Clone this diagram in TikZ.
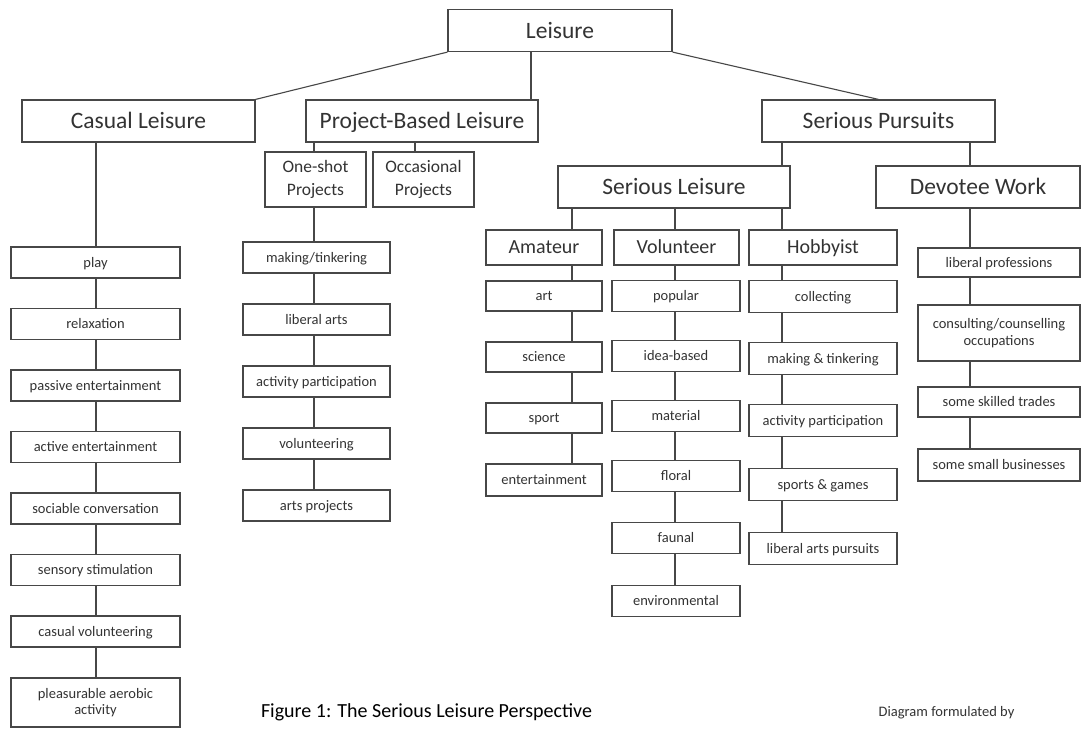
\documentclass[tikz,border=0pt]{standalone}
\usepackage{fontspec}
\setmainfont{Carlito}
\definecolor{boxline}{HTML}{474747}
\definecolor{boxtext}{HTML}{333333}
\newcommand{\bigsz}{\fontsize{23.5}{26}\selectfont}
\newcommand{\midsz}{\fontsize{20}{23}\selectfont}
\newcommand{\prjsz}{\fontsize{17.5}{23}\selectfont}
\newcommand{\itemsz}{\fontsize{14.5}{16.5}\selectfont}
\tikzset{
  box/.style={draw=boxline, line width=1.2pt, text=boxtext, inner sep=0pt, align=center},
  headbox/.style={box, font=\bigsz, minimum height=42pt, text height=17pt, text depth=2pt},
  kindbox/.style={box, font=\midsz, minimum height=35pt, text height=14.5pt, text depth=1.6pt},
  projbox/.style={box, font=\prjsz, minimum height=55pt, minimum width=101pt},
  itembox/.style={box, font=\itemsz, minimum height=31pt, text height=10.5pt, text depth=1.5pt},
  twoline/.style={text height={}, text depth={}},
  link/.style={draw=boxline, line width=1.1pt},
}
\begin{document}
\begin{tikzpicture}[x=1pt,y=-1pt]
			\fill[white] (0,0) rectangle (1083,728);
			% spines of the columns
			\coordinate (casx) at (96,0);
			\coordinate (prjx) at (314,0);
			\coordinate (occx) at (415,0);
			\coordinate (prbx) at (531,0);
			\coordinate (amax) at (572,0);
			\coordinate (volx) at (675,0);
			\coordinate (hobx) at (782,0);
			\coordinate (devx) at (970,0);
			% top levels
			\node[headbox, minimum width=224pt] (leisure) at (560,30.5) {Leisure};
			\node[headbox, minimum width=233pt] (casual) at (138.5,121) {Casual Leisure};
			\node[headbox, minimum width=232pt] (project) at (422,121) {Project-Based Leisure};
			\node[headbox, minimum width=233pt] (serpur) at (878.5,121) {Serious Pursuits};
			\node[headbox, minimum width=232pt] (serlei) at (674,187) {Serious Leisure};
			\node[headbox, minimum width=204pt] (devotee) at (978,187) {Devotee Work};
			\node[projbox] (oneshot) at (315.5,179.5) {One-shot\\Projects};
			\node[projbox] (occasional) at (423.5,179.5) {Occasional\\Projects};
			\node[kindbox, minimum width=116pt] (amateur) at (544,247.5) {Amateur};
			\node[kindbox, minimum width=125pt] (volunteer) at (676.5,247.5) {Volunteer};
			\node[kindbox, minimum width=148pt] (hobbyist) at (823,247.5) {Hobbyist};
			\draw[link] (leisure.south west) -- (casual.north east);
			\draw[link] (leisure.south -| prbx) -- (project.north -| prbx);
			\draw[link] (leisure.south east) -- (serpur.north);
			\draw[link] (project.south -| prjx) -- (oneshot.north -| prjx);
			\draw[link] (project.south -| occx) -- (occasional.north -| occx);
			\draw[link] (serpur.south -| hobx) -- (serlei.north -| hobx);
			\draw[link] (serpur.south -| devx) -- (devotee.north -| devx);
			\draw[link] (serlei.south -| amax) -- (amateur.north -| amax);
			\draw[link] (serlei.south -| volx) -- (volunteer.north -| volx);
			\draw[link] (serlei.south -| hobx) -- (hobbyist.north -| hobx);
			% casual leisure
			\node[itembox, minimum width=169pt] (play) at (95.5,262.5) {play};
			\node[itembox, minimum width=169pt] (relax) at (95.5,324) {relaxation};
			\node[itembox, minimum width=169pt] (passive) at (95.5,385.5) {passive entertainment};
			\node[itembox, minimum width=169pt] (active) at (95.5,447) {active entertainment};
			\node[itembox, minimum width=169pt] (sociable) at (95.5,508.5) {sociable conversation};
			\node[itembox, minimum width=169pt] (sensory) at (95.5,570) {sensory stimulation};
			\node[itembox, minimum width=169pt] (casvol) at (95.5,631.5) {casual volunteering};
			\node[itembox, twoline, minimum width=169pt, minimum height=49pt] (aerobic) at (95.5,702.5) {pleasurable aerobic\\activity};
			\draw[link] (casual.south -| casx) -- (play.north -| casx);
			\draw[link] (play.south -| casx) -- (relax.north -| casx);
			\draw[link] (relax.south -| casx) -- (passive.north -| casx);
			\draw[link] (passive.south -| casx) -- (active.north -| casx);
			\draw[link] (active.south -| casx) -- (sociable.north -| casx);
			\draw[link] (sociable.south -| casx) -- (sensory.north -| casx);
			\draw[link] (sensory.south -| casx) -- (casvol.north -| casx);
			\draw[link] (casvol.south -| casx) -- (aerobic.north -| casx);
			% one-shot projects
			\node[itembox, minimum width=147pt] (making) at (316.5,257.5) {making/tinkering};
			\node[itembox, minimum width=147pt] (libarts) at (316.5,319.5) {liberal arts};
			\node[itembox, minimum width=147pt] (actpart) at (316.5,381.5) {activity participation};
			\node[itembox, minimum width=147pt] (volunt) at (316.5,443.5) {volunteering};
			\node[itembox, minimum width=147pt] (artsprj) at (316.5,505.5) {arts projects};
			\draw[link] (oneshot.south -| prjx) -- (making.north -| prjx);
			\draw[link] (making.south -| prjx) -- (libarts.north -| prjx);
			\draw[link] (libarts.south -| prjx) -- (actpart.north -| prjx);
			\draw[link] (actpart.south -| prjx) -- (volunt.north -| prjx);
			\draw[link] (volunt.south -| prjx) -- (artsprj.north -| prjx);
			% amateur
			\node[itembox, minimum width=116pt, minimum height=30pt] (art) at (544,296) {art};
			\node[itembox, minimum width=116pt, minimum height=30pt] (science) at (544,357) {science};
			\node[itembox, minimum width=116pt, minimum height=30pt] (sport) at (544,418) {sport};
			\node[itembox, minimum width=116pt, minimum height=32pt] (entert) at (544,480) {entertainment};
			\draw[link] (amateur.south -| amax) -- (art.north -| amax);
			\draw[link] (art.south -| amax) -- (science.north -| amax);
			\draw[link] (science.south -| amax) -- (sport.north -| amax);
			\draw[link] (sport.south -| amax) -- (entert.north -| amax);
			% volunteer
			\node[itembox, minimum width=128pt] (popular) at (676,296) {popular};
			\node[itembox, minimum width=128pt] (idea) at (676,356) {idea-based};
			\node[itembox, minimum width=128pt] (material) at (676,416) {material};
			\node[itembox, minimum width=128pt] (floral) at (676,476) {floral};
			\node[itembox, minimum width=128pt] (faunal) at (676,538) {faunal};
			\node[itembox, minimum width=128pt] (environ) at (676,601) {environmental};
			\draw[link] (volunteer.south -| volx) -- (popular.north -| volx);
			\draw[link] (popular.south -| volx) -- (idea.north -| volx);
			\draw[link] (idea.south -| volx) -- (material.north -| volx);
			\draw[link] (material.south -| volx) -- (floral.north -| volx);
			\draw[link] (floral.south -| volx) -- (faunal.north -| volx);
			\draw[link] (faunal.south -| volx) -- (environ.north -| volx);
			% hobbyist
			\node[itembox, minimum width=148pt, minimum height=32pt] (collect) at (823,296.5) {collecting};
			\node[itembox, minimum width=148pt, minimum height=32pt] (maktink) at (823,358.5) {making \& tinkering};
			\node[itembox, minimum width=148pt, minimum height=32pt] (hobpart) at (823,420.5) {activity participation};
			\node[itembox, minimum width=148pt, minimum height=32pt] (sports) at (823,484.5) {sports \& games};
			\node[itembox, minimum width=148pt, minimum height=32pt] (libpurs) at (823,548.5) {liberal arts pursuits};
			\draw[link] (hobbyist.south -| hobx) -- (collect.north -| hobx);
			\draw[link] (collect.south -| hobx) -- (maktink.north -| hobx);
			\draw[link] (maktink.south -| hobx) -- (hobpart.north -| hobx);
			\draw[link] (hobpart.south -| hobx) -- (sports.north -| hobx);
			\draw[link] (sports.south -| hobx) -- (libpurs.north -| hobx);
			% devotee work
			\node[itembox, minimum width=162pt, minimum height=29pt] (libprof) at (999,262.5) {liberal professions};
			\node[itembox, twoline, minimum width=162pt, minimum height=56pt, font=\fontsize{14.5}{17}\selectfont] (consult) at (999,333) {consulting/counselling\\occupations};
			\node[itembox, minimum width=162pt, minimum height=30pt] (skilled) at (999,402) {some skilled trades};
			\node[itembox, minimum width=162pt, minimum height=32pt] (smallbus) at (999,465) {some small businesses};
			\draw[link] (devotee.south -| devx) -- (libprof.north -| devx);
			\draw[link] (libprof.south -| devx) -- (consult.north -| devx);
			\draw[link] (consult.south -| devx) -- (skilled.north -| devx);
			\draw[link] (skilled.south -| devx) -- (smallbus.north -| devx);
			% captions
			\node[font=\fontsize{20}{24}\selectfont, text=black] (caption) at (426.5,712) {Figure 1: The Serious Leisure Perspective};
			\node[font=\itemsz, text=boxtext] (credit) at (946.5,713) {Diagram formulated by};
		\end{tikzpicture}
\end{document}
